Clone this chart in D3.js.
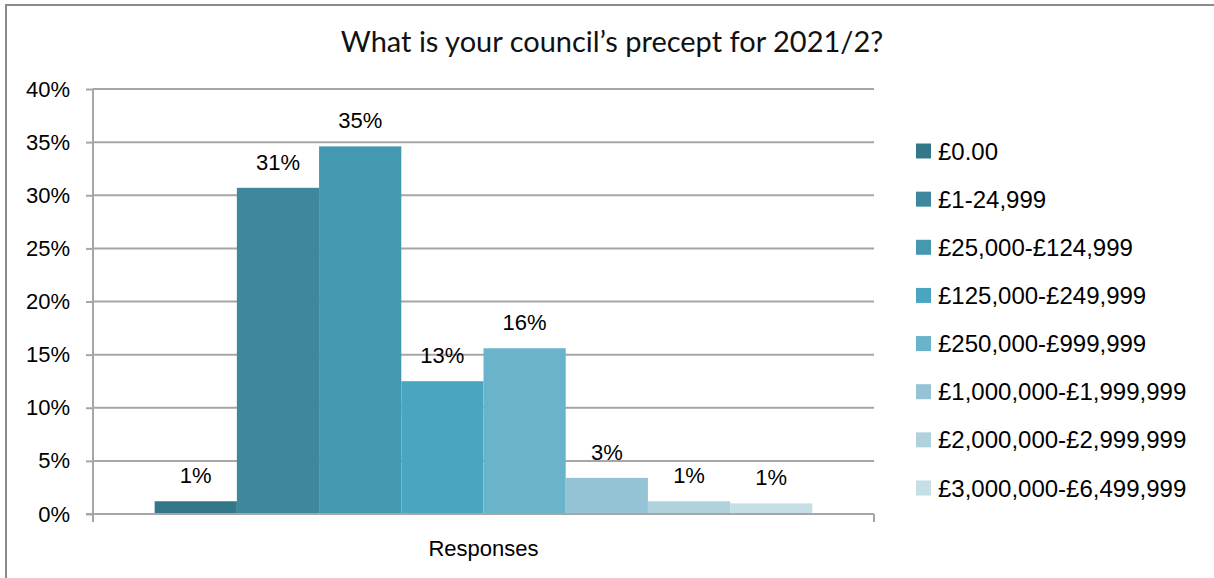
<!DOCTYPE html>
<html>
<head>
<meta charset="utf-8">
<script src="https://cdn.jsdelivr.net/npm/d3@7"></script>
<style>
  html, body { margin: 0; padding: 0; background: #fff; }
  svg { display: block; }
</style>
</head>
<body>
<svg id="chart" width="1214" height="578"></svg>
<script>
const title = "What is your council\u2019s precept for 2021/2?";
const category = ["Responses"];
const seriesNames = ["£0.00", "£1-24,999", "£25,000-£124,999", "£125,000-£249,999",
  "£250,000-£999,999", "£1,000,000-£1,999,999", "£2,000,000-£2,999,999", "£3,000,000-£6,499,999"];
const seriesValues = [0.012, 0.307, 0.346, 0.125, 0.156, 0.034, 0.012, 0.010];
const seriesColors = ["#327889", "#3d889d", "#4498b0", "#4aa6c0", "#69b3cb", "#93c3d5", "#afd2de", "#c6dfe6"];
const yTicks = [0, 0.05, 0.10, 0.15, 0.20, 0.25, 0.30, 0.35, 0.40];

const svg = d3.select("#chart");
const font = "'Liberation Sans', Arial, sans-serif";

// outer border
svg.append("rect").attr("x", 6).attr("y", 5).attr("width", 1400).attr("height", 800)
  .attr("fill", "#fff").attr("stroke", "#8a8a8a").attr("stroke-width", 2);

const plot = { left: 93, right: 874, top: 89, bottom: 514 };

const y = d3.scaleLinear().domain([0, 0.4]).range([plot.bottom, plot.top]);
const x0 = d3.scaleBand().domain(category).range([plot.left, plot.right])
  .paddingInner(0).paddingOuter(0.75 / 8);
const x1 = d3.scaleBand().domain(seriesNames).range([0, x0.bandwidth()]).padding(0);

// gridlines
svg.append("g").selectAll("line").data(yTicks.filter(d => d > 0)).join("line")
  .attr("x1", plot.left).attr("x2", plot.right)
  .attr("y1", d => y(d)).attr("y2", d => y(d))
  .attr("stroke", "#a6a6a6").attr("stroke-width", 2);

// y axis
const yAxis = d3.axisLeft(y).tickValues(yTicks).tickSize(7).tickPadding(16)
  .tickFormat(d3.format(".0%"));
const gy = svg.append("g").attr("transform", `translate(${plot.left},0)`).call(yAxis);
gy.select(".domain").attr("stroke", "#a6a6a6").attr("stroke-width", 2)
  .attr("d", `M0,${plot.top}V${plot.bottom + 8}`);
gy.selectAll(".tick line").attr("stroke", "#a6a6a6").attr("stroke-width", 2);
gy.selectAll(".tick text").attr("fill", "#000").style("font-family", font).style("font-size", "22px");

// bars
const g = svg.append("g").attr("transform", `translate(${x0(category[0])},0)`);
const data = seriesNames.map((n, i) => ({ name: n, value: seriesValues[i], color: seriesColors[i] }));
g.selectAll("rect").data(data).join("rect")
  .attr("x", d => x1(d.name)).attr("width", x1.bandwidth())
  .attr("y", d => y(d.value)).attr("height", d => y(0) - y(d.value))
  .attr("fill", d => d.color);

// labels
g.selectAll("text.lbl").data(data).join("text").attr("class", "lbl")
  .attr("x", d => x1(d.name) + x1.bandwidth() / 2)
  .attr("y", d => y(d.value) - 18)
  .attr("text-anchor", "middle")
  .style("font-family", font).style("font-size", "22px").attr("fill", "#000")
  .text(d => d3.format(".0%")(d.value));

// x axis
const xg = svg.append("g");
xg.append("line").attr("x1", plot.left - 7).attr("x2", plot.right)
  .attr("y1", plot.bottom).attr("y2", plot.bottom)
  .attr("stroke", "#a6a6a6").attr("stroke-width", 2);
xg.append("line").attr("x1", plot.right).attr("x2", plot.right)
  .attr("y1", plot.bottom).attr("y2", plot.bottom + 8)
  .attr("stroke", "#a6a6a6").attr("stroke-width", 2);
xg.append("text").attr("x", x0(category[0]) + x0.bandwidth() / 2).attr("y", 556)
  .attr("text-anchor", "middle").style("font-family", font).style("font-size", "22px")
  .attr("fill", "#000").text(category[0]);

// title
svg.append("text").attr("x", 612).attr("y", 52).attr("text-anchor", "middle")
  .style("font-family", "Lato, 'Open Sans', sans-serif").style("font-size", "29px")
  .attr("fill", "#111").text(title);

// legend
const leg = svg.append("g").attr("transform", "translate(916,0)");
const legY = d3.scalePoint().domain(seriesNames).range([151, 488]);
const li = leg.selectAll("g").data(data).join("g")
  .attr("transform", d => `translate(0,${legY(d.name)})`);
li.append("rect").attr("x", 0).attr("y", -7.5).attr("width", 15).attr("height", 15)
  .attr("fill", d => d.color);
li.append("text").attr("x", 22).attr("y", 8.5)
  .style("font-family", font).style("font-size", "24px").attr("fill", "#000")
  .text(d => d.name);
</script>
</body>
</html>
